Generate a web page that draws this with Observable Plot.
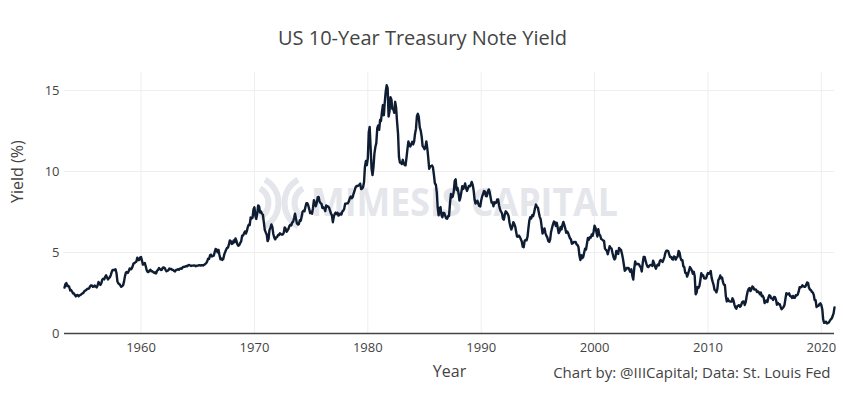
<!DOCTYPE html>
<html><head><meta charset="utf-8">
<script src="https://cdn.jsdelivr.net/npm/d3@7"></script>
<script src="https://cdn.jsdelivr.net/npm/@observablehq/plot@0.6"></script>
<style>html,body{margin:0;padding:0;background:#fff}</style>
</head><body><div id="chart"></div>
<script>
// Monthly 10-year Treasury constant maturity yield (%), first observation April 1953
const startYear = 1953, startMonth = 4;
const y1950s = [2.83,3.05,3.11,2.93,2.95,2.87,2.66,2.68,2.59,
 2.48,2.47,2.37,2.29,2.37,2.38,2.30,2.36,2.38,2.43,2.48,2.51,
 2.61,2.65,2.68,2.75,2.76,2.78,2.90,2.97,2.97,2.88,2.89,2.96,
 2.90,2.84,2.96,3.18,3.07,3.00,3.11,3.33,3.38,3.34,3.49,3.59,
 3.46,3.34,3.41,3.48,3.60,3.80,3.93,3.93,3.92,3.97,3.72,3.21,
 3.09,3.05,2.98,2.88,2.92,2.97,3.20,3.54,3.76,3.80,3.74,3.86,
 4.02,3.96,3.99,4.12,4.31,4.34,4.40,4.43,4.68,4.53,4.53,4.69];
const y1960s = [4.72,4.49,4.25,4.28,4.35,4.15,3.90,3.80,3.80,3.89,3.93,3.84,
 3.84,3.78,3.74,3.78,3.71,3.88,3.92,4.04,3.98,3.92,3.94,4.06,
 4.08,4.04,3.93,3.84,3.87,3.91,4.01,3.98,3.98,3.93,3.92,3.86,
 3.83,3.92,3.93,3.97,3.93,3.99,4.02,4.00,4.08,4.11,4.12,4.13,
 4.17,4.15,4.22,4.23,4.20,4.17,4.19,4.19,4.20,4.19,4.15,4.18,
 4.19,4.21,4.21,4.20,4.21,4.21,4.20,4.25,4.29,4.35,4.45,4.62,
 4.61,4.83,4.87,4.75,4.78,4.81,5.02,5.22,5.18,5.01,5.16,4.84,
 4.58,4.63,4.54,4.59,4.85,5.02,5.16,5.28,5.30,5.48,5.75,5.70,
 5.53,5.56,5.74,5.64,5.87,5.72,5.50,5.42,5.46,5.58,5.70,6.03,
 6.04,6.19,6.30,6.17,6.32,6.57,6.72,6.69,7.16,7.10,7.14,7.65];
const y1970s = [7.79,7.24,7.07,7.39,7.91,7.84,7.46,7.53,7.39,7.33,6.84,6.39,
 6.24,6.11,5.70,5.83,6.39,6.52,6.73,6.58,6.14,5.93,5.81,5.93,
 5.95,6.08,6.07,6.19,6.13,6.11,6.11,6.21,6.55,6.48,6.28,6.36,
 6.46,6.64,6.71,6.67,6.85,6.90,7.13,7.40,7.09,6.79,6.73,6.74,
 6.99,6.96,7.21,7.51,7.58,7.54,7.81,8.04,8.04,7.90,7.68,7.43,
 7.50,7.39,7.73,8.23,8.06,7.86,8.06,8.40,8.43,8.14,8.05,8.00,
 7.74,7.79,7.73,7.56,7.90,7.86,7.83,7.77,7.59,7.41,7.29,6.87,
 7.21,7.39,7.46,7.37,7.46,7.28,7.33,7.40,7.34,7.52,7.58,7.69,
 8.01,8.01,8.03,8.04,8.16,8.35,8.46,8.35,8.42,8.64,8.81,9.01,
 9.10,9.10,9.12,9.18,9.25,8.91,8.95,9.03,9.33,10.30,10.65,10.39];
const y1980s = [10.80,12.41,12.75,11.47,10.18,9.78,10.25,11.10,11.51,11.75,12.68,12.84,
 12.57,13.19,13.12,13.68,14.10,13.47,14.28,14.94,15.32,15.15,13.39,13.72,
 14.59,14.43,13.86,13.87,13.62,14.30,13.95,13.06,12.34,10.91,10.55,10.54,
 10.46,10.72,10.51,10.40,10.38,10.85,11.38,11.85,11.65,11.54,11.69,11.83,
 11.67,11.84,12.32,12.63,13.41,13.56,13.36,12.72,12.52,12.16,11.57,11.50,
 11.38,11.51,11.86,11.43,10.85,10.16,10.31,10.33,10.37,10.24,9.78,9.26,
 9.19,8.70,7.78,7.30,7.71,7.80,7.30,7.17,7.45,7.43,7.25,7.11,
 7.08,7.25,7.25,8.02,8.61,8.40,8.45,8.76,9.42,9.52,8.86,8.99,
 8.67,8.21,8.37,8.72,9.09,8.92,9.06,9.26,8.98,8.80,8.96,9.11,
 9.09,9.17,9.36,9.18,8.86,8.28,8.02,8.11,8.19,8.01,7.87,7.84];
const y1990s = [8.21,8.47,8.59,8.79,8.76,8.48,8.47,8.75,8.89,8.72,8.39,8.08,
 8.09,7.85,8.11,8.04,8.07,8.28,8.27,7.90,7.65,7.53,7.42,7.09,
 7.03,7.34,7.54,7.48,7.39,7.26,6.84,6.59,6.42,6.59,6.87,6.77,
 6.60,6.26,5.98,5.97,6.04,5.96,5.81,5.68,5.36,5.33,5.72,5.77,
 5.75,5.97,6.48,6.97,7.18,7.10,7.30,7.24,7.46,7.74,7.96,7.81,
 7.78,7.47,7.20,7.06,6.63,6.17,6.28,6.49,6.20,6.04,5.93,5.71,
 5.65,5.81,6.27,6.51,6.74,6.91,6.87,6.64,6.83,6.53,6.20,6.30,
 6.58,6.42,6.69,6.89,6.71,6.49,6.22,6.30,6.21,6.03,5.88,5.81,
 5.54,5.57,5.65,5.64,5.65,5.50,5.46,5.34,4.81,4.53,4.83,4.65,
 4.72,5.00,5.23,5.18,5.54,5.90,5.79,5.94,5.92,6.11,6.03,6.28];
const y2000s = [6.66,6.52,6.26,5.99,6.44,6.10,6.05,5.83,5.80,5.74,5.72,5.24,
 5.16,5.10,4.89,5.14,5.39,5.28,5.24,4.97,4.73,4.57,4.65,5.09,
 5.04,4.91,5.28,5.21,5.16,4.93,4.65,4.26,3.87,3.94,4.05,4.03,
 4.05,3.90,3.81,3.96,3.57,3.33,3.98,4.45,4.27,4.29,4.30,4.27,
 4.15,4.08,3.83,4.35,4.72,4.73,4.50,4.28,4.13,4.10,4.19,4.23,
 4.22,4.17,4.50,4.34,4.14,4.00,4.18,4.26,4.20,4.46,4.54,4.47,
 4.42,4.57,4.72,4.99,5.11,5.11,5.09,4.88,4.72,4.73,4.60,4.56,
 4.76,4.72,4.56,4.69,4.75,5.10,5.00,4.67,4.52,4.53,4.15,4.10,
 3.74,3.74,3.51,3.68,3.88,4.10,4.01,3.89,3.69,3.81,3.53,2.42,
 2.52,2.87,2.82,2.93,3.29,3.72,3.56,3.59,3.40,3.39,3.40,3.59];
const y2010s = [3.73,3.69,3.73,3.85,3.42,3.20,3.01,2.70,2.65,2.54,2.76,3.29,
 3.39,3.58,3.41,3.46,3.17,3.00,3.00,2.30,1.98,2.15,2.01,1.98,
 1.97,1.97,2.17,2.05,1.80,1.62,1.53,1.68,1.72,1.75,1.65,1.72,
 1.91,1.98,1.96,1.76,1.93,2.30,2.58,2.74,2.81,2.62,2.72,2.90,
 2.86,2.71,2.72,2.71,2.56,2.60,2.54,2.42,2.53,2.30,2.33,2.21,
 1.88,1.98,2.04,1.94,2.20,2.36,2.32,2.17,2.17,2.07,2.26,2.24,
 2.09,1.78,1.89,1.81,1.81,1.64,1.50,1.56,1.63,1.76,2.14,2.49,
 2.43,2.42,2.48,2.30,2.30,2.19,2.32,2.21,2.20,2.36,2.35,2.40,
 2.58,2.86,2.84,2.87,2.98,2.91,2.89,2.89,3.00,3.15,3.12,2.83,
 2.71,2.68,2.57,2.53,2.40,2.07,2.06,1.63,1.70,1.71,1.81,1.86];
const y2020s = [1.76,1.50,0.87,0.66,0.67,0.73,0.62,0.65,0.68,0.79,0.87,0.93,
 1.08,1.26,1.61];

const xTickYears = [1960, 1970, 1980, 1990, 2000, 2010, 2020];
const yTicks = [0, 5, 10, 15];
const titleText = "US 10-Year Treasury Note Yield";
const xLabel = "Year";
const yLabel = "Yield (%)";
const captionText = "Chart by: @IIICapital; Data: St. Louis Fed";
const watermarkText = "MIMESIS CAPITAL";

const values = [].concat(y1950s, y1960s, y1970s, y1980s, y1990s, y2000s, y2010s, y2020s);
const data = values.map((v, i) => ({date: new Date(Date.UTC(startYear, startMonth - 1 + i, 1)), yield: v}));
const xTickDates = xTickYears.map(y => new Date(Date.UTC(y, 0, 1)));

const W = 843, H = 396, mL = 64, mR = 9, mT = 72, mB = 63;
const font = "'Open Sans', sans-serif";
const ink = "#444";
const wmColor = "#e4e6eb";

const chart = Plot.plot({
  width: W, height: H,
  marginLeft: mL, marginRight: mR, marginTop: mT, marginBottom: mB,
  style: {fontFamily: font, fontSize: "13px", color: ink, background: "#fff", overflow: "visible"},
  x: {type: "utc", domain: [data[0].date, data[data.length - 1].date]},
  y: {domain: [0, 16.11]},
  marks: [
    Plot.gridX(xTickDates, {stroke: "#eee", strokeOpacity: 1}),
    Plot.gridY(yTicks.filter(d => d > 0), {stroke: "#eee", strokeOpacity: 1}),
    Plot.text([watermarkText], {frameAnchor: "middle", lineAnchor: "middle", dx: 15, fontSize: 40, fontWeight: 700, fill: wmColor}),
    Plot.ruleY([0], {stroke: ink, strokeWidth: 1.3}),
    Plot.line(data, {x: "date", y: "yield", stroke: "#0f1d33", strokeWidth: 2.4, strokeLinejoin: "round"}),
    Plot.axisX(xTickDates, {tickSize: 0, tickPadding: 9, tickFormat: "%Y", label: null, fontSize: 13, fill: ink}),
    Plot.axisY(yTicks, {tickSize: 0, tickPadding: 5, label: null, fontSize: 13, fill: ink}),
    Plot.text([titleText], {frameAnchor: "top", lineAnchor: "middle", dx: -27, dy: -34, fontSize: 20, fill: ink}),
    Plot.text([xLabel], {frameAnchor: "bottom", lineAnchor: "middle", dy: 38, fontSize: 16, fill: ink}),
    Plot.text([captionText], {frameAnchor: "bottom-right", textAnchor: "end", lineAnchor: "middle", dx: -4, dy: 40, fontSize: 15, fill: ink}),
    Plot.text([yLabel], {frameAnchor: "left", lineAnchor: "middle", rotate: -90, dx: -47, fontSize: 16, fill: ink})
  ]
});

// watermark: fit the text to the reference width and add a simple arc logo beside it
const wmText = Array.from(chart.querySelectorAll("text")).find(t => t.textContent === watermarkText);
if (wmText) {
  wmText.setAttribute("textLength", 307);
  wmText.setAttribute("lengthAdjust", "spacingAndGlyphs");
  const wm = wmText.parentNode;
  const arc = d3.arc();
  const cy = mT + (H - mT - mB) / 2;
  const fx = mL + (W - mL - mR) / 2;
  const groups = [{cx: fx - 213, a0: Math.PI / 6, a1: Math.PI * 5 / 6}, {cx: fx - 153, a0: Math.PI * 7 / 6, a1: Math.PI * 11 / 6}];
  for (const g of groups) {
    for (const [r0, r1] of [[14, 20], [24, 30]]) {
      const p = document.createElementNS("http://www.w3.org/2000/svg", "path");
      p.setAttribute("d", arc({innerRadius: r0, outerRadius: r1, startAngle: g.a0, endAngle: g.a1}));
      p.setAttribute("transform", `translate(${g.cx},${cy})`);
      p.setAttribute("fill", wmColor);
      wm.insertBefore(p, wmText);
    }
  }
}
document.getElementById("chart").appendChild(chart);
</script>
</body></html>
